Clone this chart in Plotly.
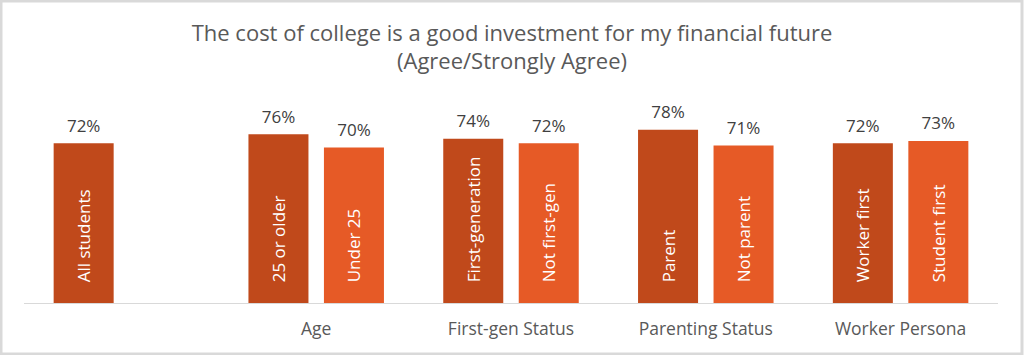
import plotly.graph_objects as go

groups = [" ", "Age", "First-gen Status", "Parenting Status", "Worker Persona"]
dark_names = ["All students", "25 or older", "First-generation", "Parent", "Worker first"]
dark_values = [72, 76, 74, 78, 72]
light_names = [None, "Under 25", "Not first-gen", "Not parent", "Student first"]
light_values = [None, 70, 72, 71, 73]

DARK = "#C0491B"
LIGHT = "#E65A26"
FONT = "Open Sans, Liberation Sans, Arial, sans-serif"

fig = go.Figure()
for names, vals, col, grp in [(dark_names, dark_values, DARK, "a"),
                              (light_names, light_values, LIGHT, "b")]:
    fig.add_trace(go.Bar(
        x=groups, y=vals, text=names, offsetgroup=grp,
        texttemplate="\u00a0\u00a0\u00a0\u00a0%{text}",
        marker=dict(color=col, line=dict(width=0)),
        textposition="inside", insidetextanchor="start", textangle=-90,
        textfont=dict(color="white", size=17, family=FONT),
        hoverinfo="skip", showlegend=False, cliponaxis=False,
    ))
for vals, grp in [(dark_values, "a"), (light_values, "b")]:
    fig.add_trace(go.Scatter(
        x=groups, y=vals, mode="markers+text", offsetgroup=grp,
        text=[None if v is None else f"{v}%" for v in vals],
        textposition="top center",
        marker=dict(size=10, opacity=0),
        textfont=dict(color="#404040", size=17, family=FONT),
        hoverinfo="skip", showlegend=False, cliponaxis=False,
    ))

fig.update_layout(
    width=1024, height=355,
    margin=dict(l=24, r=26, t=81, b=52),
    paper_bgcolor="white", plot_bgcolor="white",
    barmode="group", bargap=0.225, bargroupgap=0.205,
    scattermode="group", scattergap=0.225,
    title=dict(
        text="The cost of college is a good investment for my financial future<br>(Agree/Strongly Agree)",
        x=0.5, xanchor="center", y=0.885, yanchor="top",
        font=dict(family=FONT, size=22, color="#595959"),
    ),
    xaxis=dict(type="category", showgrid=False, showline=True, linecolor="#D9D9D9",
               linewidth=1, ticks="", ticklabelstandoff=10,
               tickfont=dict(family=FONT, size=17.5, color="#595959")),
    yaxis=dict(range=[0, 100], visible=False, showgrid=False),
    shapes=[dict(type="rect", xref="paper", yref="paper",
                 x0=-23/974, x1=1+24/974, y0=-51/222, y1=1+80/222,
                 line=dict(color="#D9D9D9", width=3), fillcolor="rgba(0,0,0,0)")],
)

fig.write_html("out.html")
